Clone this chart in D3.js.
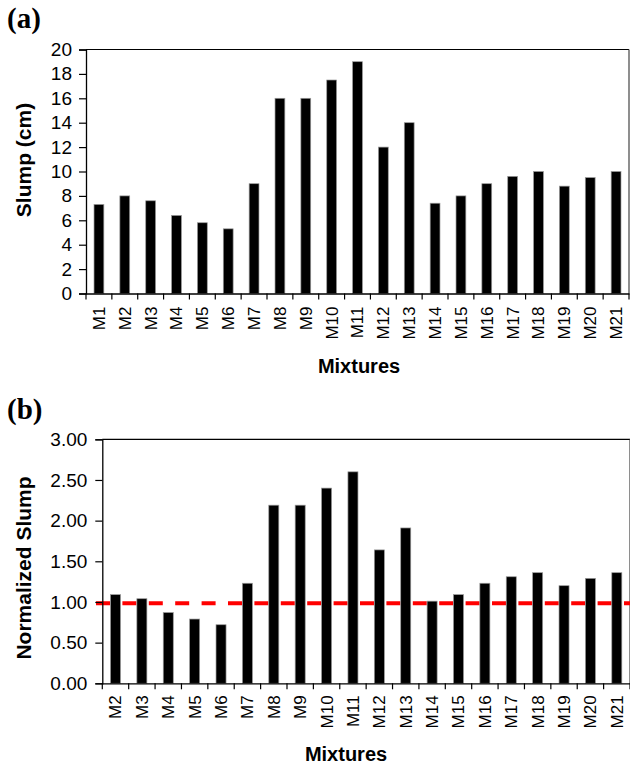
<!DOCTYPE html>
<html>
<head>
<meta charset="utf-8">
<script src="https://cdn.jsdelivr.net/npm/d3@7"></script>
<style>
  body { margin: 0; background: #fff; }
  text { font-family: "Liberation Sans", Arial, sans-serif; fill: #000; }
</style>
</head>
<body>
<div id="main"></div>
<script>
// panel (a)
const mixturesA = ["M1","M2","M3","M4","M5","M6","M7","M8","M9","M10","M11","M12","M13","M14","M15","M16","M17","M18","M19","M20","M21"];
const slumpCm = [7.3, 8.0, 7.6, 6.4, 5.8, 5.3, 9.0, 16.0, 16.0, 17.5, 19.0, 12.0, 14.0, 7.4, 8.0, 9.0, 9.6, 10.0, 8.8, 9.5, 10.0];
const slumpTicks = [0, 2, 4, 6, 8, 10, 12, 14, 16, 18, 20];

// panel (b)
const mixturesB = ["M2","M3","M4","M5","M6","M7","M8","M9","M10","M11","M12","M13","M14","M15","M16","M17","M18","M19","M20","M21"];
const normSlump = [1.09, 1.04, 0.87, 0.79, 0.72, 1.23, 2.19, 2.19, 2.40, 2.60, 1.64, 1.91, 1.01, 1.09, 1.23, 1.31, 1.36, 1.20, 1.29, 1.36];
const normTicks = [0, 0.5, 1.0, 1.5, 2.0, 2.5, 3.0];
const refLevel = 0.985;

const svg = d3.select("#main").append("svg")
    .attr("width", 630)
    .attr("height", 765);

function drawPanel(cfg) {
  const g = svg.append("g");

  const x = d3.scaleBand()
      .domain(cfg.cats)
      .range([cfg.left, cfg.right])
      .paddingInner(0.62)
      .paddingOuter(0.31);
  const step = x.step();

  const y = d3.scaleLinear()
      .domain([0, d3.max(cfg.ticks)])
      .range([cfg.bottom, cfg.top]);

  // frame top / right
  g.append("line")
      .attr("x1", cfg.left).attr("x2", cfg.right)
      .attr("y1", cfg.top).attr("y2", cfg.top)
      .attr("stroke", "#000").attr("stroke-width", 1.2);
  g.append("line")
      .attr("x1", cfg.right).attr("x2", cfg.right)
      .attr("y1", cfg.top).attr("y2", cfg.bottom)
      .attr("stroke", "#444").attr("stroke-width", 1.2);

  // reference line (drawn behind the bars)
  if (cfg.ref !== undefined) {
    g.append("line")
        .attr("x1", cfg.refStart).attr("x2", cfg.right)
        .attr("y1", y(cfg.ref)).attr("y2", y(cfg.ref))
        .attr("stroke", "#ff0000")
        .attr("stroke-width", 4)
        .attr("stroke-dasharray", "14,12.4");
  }

  // bars
  g.selectAll("rect.bar")
      .data(cfg.values)
      .enter()
      .append("rect")
        .attr("class", "bar")
        .attr("x", (d, i) => x(cfg.cats[i]))
        .attr("y", d => y(d))
        .attr("width", x.bandwidth())
        .attr("height", d => cfg.bottom - y(d))
        .attr("fill", "#000")
        .attr("stroke", "#999")
        .attr("stroke-width", 0.7);

  // y axis
  const yAxis = g.append("g")
      .attr("transform", `translate(${cfg.left},0)`)
      .call(d3.axisLeft(y)
              .tickValues(cfg.ticks)
              .tickFormat(cfg.fmt)
              .tickSize(7)
              .tickPadding(cfg.yPad));
  yAxis.select(".domain").attr("stroke", "#000").attr("stroke-width", 1.3);
  yAxis.selectAll(".tick line").attr("stroke-width", 1.2);
  yAxis.selectAll("text")
      .style("font-size", "19px")
      .style("font-family", "'Liberation Sans', Arial, sans-serif");

  // x axis: labels at band centres, ticks at band edges
  const xAxis = g.append("g")
      .attr("transform", `translate(0,${cfg.bottom})`)
      .call(d3.axisBottom(x).tickSize(0).tickSizeOuter(0));
  xAxis.select(".domain").attr("stroke", "#000").attr("stroke-width", 1.3);
  xAxis.selectAll(".tick text")
      .attr("transform", "rotate(-90)")
      .attr("text-anchor", "end")
      .attr("x", -cfg.xPad)
      .attr("y", 0)
      .attr("dy", "0.35em")
      .style("font-size", "17px")
      .style("font-family", "'Liberation Sans', Arial, sans-serif");

  const edges = d3.range(cfg.cats.length + 1).map(i => cfg.left + i * step);
  xAxis.selectAll("line.edge")
      .data(edges)
      .enter()
      .append("line")
        .attr("class", "edge")
        .attr("x1", d => d).attr("x2", d => d)
        .attr("y1", 0).attr("y2", 6)
        .attr("stroke", "#000")
        .attr("stroke-width", 1.2);

  // titles
  g.append("text")
      .attr("transform", `translate(${cfg.yTitleX},${cfg.yTitleY}) rotate(-90)`)
      .attr("text-anchor", "middle")
      .style("font-size", "21px")
      .style("font-weight", "bold")
      .text(cfg.yTitle);

  g.append("text")
      .attr("x", cfg.xTitleX)
      .attr("y", cfg.xTitleY)
      .attr("text-anchor", "middle")
      .style("font-size", "20px")
      .style("font-weight", "bold")
      .text("Mixtures");

  g.append("text")
      .attr("x", 7)
      .attr("y", cfg.labelY)
      .style("font-family", "'Liberation Serif', 'Times New Roman', serif")
      .style("font-size", "29px")
      .style("font-weight", "bold")
      .text(cfg.label);
}

drawPanel({
  cats: mixturesA, values: slumpCm, ticks: slumpTicks,
  fmt: d3.format("d"),
  left: 86, right: 629, top: 49.5, bottom: 293.5,
  yPad: 7, xPad: 13,
  yTitle: "Slump (cm)", yTitleX: 31, yTitleY: 160,
  xTitleX: 359, xTitleY: 373,
  label: "(a)", labelY: 28
});

drawPanel({
  cats: mixturesB, values: normSlump, ticks: normTicks,
  fmt: d3.format(".2f"),
  left: 102.3, right: 630, top: 439.3, bottom: 683.3,
  yPad: 8, xPad: 12,
  ref: refLevel, refStart: 96,
  yTitle: "Normalized Slump", yTitleX: 31, yTitleY: 568,
  xTitleX: 346, xTitleY: 761,
  label: "(b)", labelY: 419
});
</script>
</body>
</html>
